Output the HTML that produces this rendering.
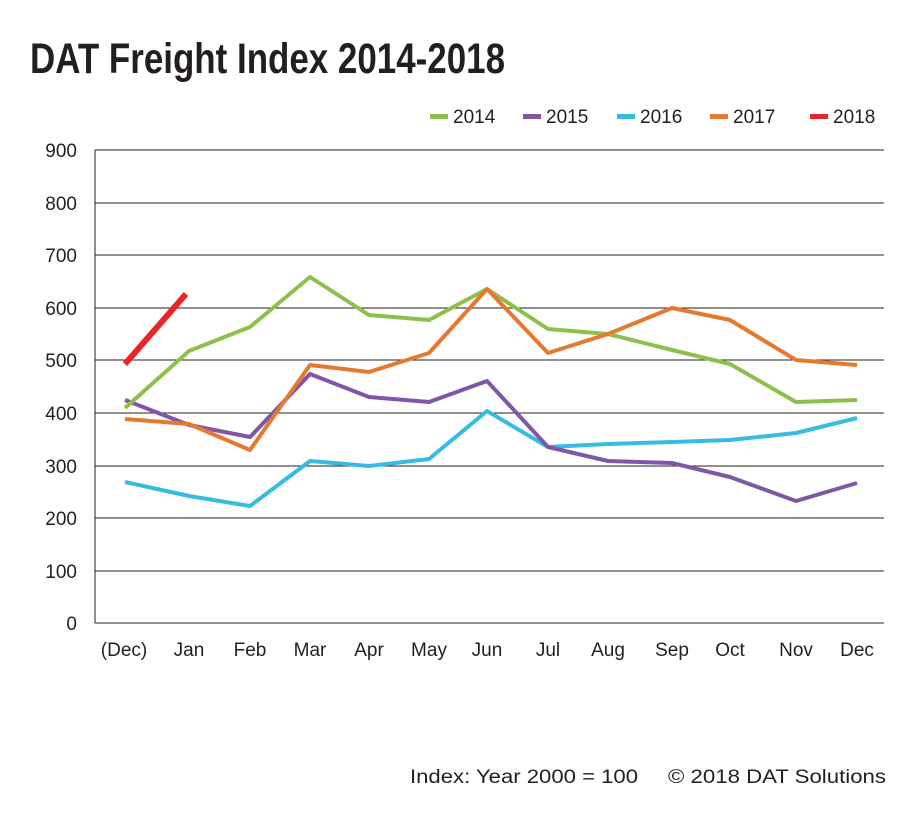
<!DOCTYPE html>
<html><head><meta charset="utf-8"><style>html,body{margin:0;padding:0;background:#fff}</style></head>
<body>
<svg width="920" height="831" xmlns="http://www.w3.org/2000/svg" font-family="Liberation Sans, Arial, sans-serif">
<rect width="920" height="831" fill="#fff"/>
<text x="30" y="73" font-family="Liberation Sans Narrow, Liberation Sans, sans-serif" font-weight="bold" font-size="43" fill="#231f20" textLength="475" lengthAdjust="spacingAndGlyphs">DAT Freight Index 2014-2018</text>
<g font-size="19" fill="#231f20">
<rect x="430" y="114" width="18" height="5" fill="#8dc04a"/><text x="453" y="123">2014</text>
<rect x="523" y="114" width="18" height="5" fill="#7f57a6"/><text x="546" y="123">2015</text>
<rect x="617" y="114" width="18" height="5" fill="#35bce0"/><text x="640" y="123">2016</text>
<rect x="710" y="114" width="18" height="5" fill="#e57a2e"/><text x="733" y="123">2017</text>
<rect x="810" y="114" width="18" height="5" fill="#e8262a"/><text x="833" y="123">2018</text>
</g>
<g stroke="#231f20" stroke-width="1">
<line x1="95" y1="150" x2="884" y2="150"/><line x1="95" y1="203" x2="884" y2="203"/><line x1="95" y1="255" x2="884" y2="255"/><line x1="95" y1="308" x2="884" y2="308"/><line x1="95" y1="360" x2="884" y2="360"/><line x1="95" y1="413" x2="884" y2="413"/><line x1="95" y1="466" x2="884" y2="466"/><line x1="95" y1="518" x2="884" y2="518"/><line x1="95" y1="571" x2="884" y2="571"/><line x1="95" y1="623" x2="884" y2="623"/>
<line x1="95" y1="150" x2="95" y2="623"/>
</g>
<g font-size="19" fill="#231f20" text-anchor="end">
<text x="77" y="157">900</text><text x="77" y="210">800</text><text x="77" y="262">700</text><text x="77" y="315">600</text><text x="77" y="367">500</text><text x="77" y="420">400</text><text x="77" y="473">300</text><text x="77" y="525">200</text><text x="77" y="578">100</text><text x="77" y="630">0</text>
</g>
<g font-size="19" fill="#231f20" text-anchor="middle">
<text x="124" y="656">(Dec)</text><text x="189" y="656">Jan</text><text x="250" y="656">Feb</text><text x="310" y="656">Mar</text><text x="369" y="656">Apr</text><text x="429" y="656">May</text><text x="487" y="656">Jun</text><text x="548" y="656">Jul</text><text x="608" y="656">Aug</text><text x="672" y="656">Sep</text><text x="730" y="656">Oct</text><text x="796" y="656">Nov</text><text x="857" y="656">Dec</text>
</g>
<g fill="none" stroke-width="4" stroke-linejoin="round">
<polyline stroke="#35bce0" points="125,482 189,496 250,506 310,461 369,466 429,459 487,411 548,447 608,444 672,442 730,440 796,433 857,418"/>
<polyline stroke="#7f57a6" points="125,400 189,425 250,437 310,374 369,397 429,402 487,381 548,447 608,461 672,463 730,477 796,501 857,483"/>
<polyline stroke="#8dc04a" points="125,408 189,351 250,327 310,277 369,315 429,320 487,289 548,329 608,334 672,350 730,364 796,402 857,400"/>
<polyline stroke="#e57a2e" points="125,419 189,424 250,450 310,365 369,372 429,353 487,289 548,353 608,334 672,308 730,320 796,360 857,365"/>
<polyline stroke="#e8262a" stroke-width="6" points="125,364 186,294"/>
</g>
<text x="410" y="783" font-size="19" fill="#231f20" textLength="228" lengthAdjust="spacingAndGlyphs">Index: Year 2000 = 100</text>
<text x="668" y="783" font-size="19" fill="#231f20" textLength="218" lengthAdjust="spacingAndGlyphs">© 2018 DAT Solutions</text>
</svg>
</body></html>
